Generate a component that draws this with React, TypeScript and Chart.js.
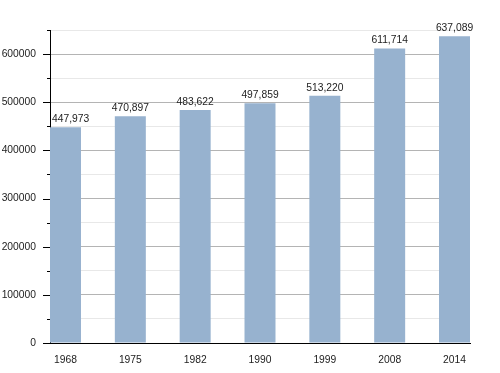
import React, { useEffect, useRef } from "react";
import { Chart, registerables } from "chart.js";

Chart.register(...registerables);

const years = ["1968", "1975", "1982", "1990", "1999", "2008", "2014"];
const population = [447973, 470897, 483622, 497859, 513220, 611714, 637089];
const valueLabels = ["447,973", "470,897", "483,622", "497,859", "513,220", "611,714", "637,089"];
const yMax = 650000;
const yMajorStep = 100000;
const yMinorStep = 50000;

const FONT = "'Liberation Sans', Arial, Helvetica, sans-serif";

const valueLabelPlugin = {
  id: "valueLabels",
  afterDatasetsDraw(chart: any) {
    const ctx = chart.ctx;
    const meta = chart.getDatasetMeta(0);
    const left = chart.chartArea.left;
    ctx.save();
    ctx.font = `10.3px ${FONT}`;
    ctx.fillStyle = "#222";
    ctx.textAlign = "center";
    ctx.textBaseline = "bottom";
    meta.data.forEach((bar: any, i: number) => {
      const w = ctx.measureText(valueLabels[i]).width;
      const x = Math.max(bar.x, left + 2 + w / 2);
      ctx.fillText(valueLabels[i], x, bar.y - 3);
    });
    ctx.restore();
  },
};

const yTickPlugin = {
  id: "yTicks",
  afterDraw(chart: any) {
    const ctx = chart.ctx;
    const ys = chart.scales.y;
    const left = chart.chartArea.left;
    ctx.save();
    ctx.strokeStyle = "#000";
    ctx.lineWidth = 1;
    for (let v = 0; v <= yMax; v += yMinorStep) {
      const py = Math.round(ys.getPixelForValue(v)) + 0.5;
      const len = v % yMajorStep === 0 ? 7 : 3;
      ctx.beginPath();
      ctx.moveTo(left - len, py);
      ctx.lineTo(left, py);
      ctx.stroke();
    }
    ctx.restore();
  },
};

export default function App() {
  const ref = useRef<HTMLCanvasElement>(null);
  useEffect(() => {
    document.body.style.margin = "0";
    const chart = new Chart(ref.current!, {
      type: "bar",
      data: {
        datasets: [
          {
            data: population.map((v, i) => ({ x: i, y: v })),
            backgroundColor: "#97b2cf",
            borderWidth: 0,
            categoryPercentage: 1,
            barPercentage: 0.478,
          },
        ],
      },
      options: {
        animation: false,
        responsive: false,
        layout: { padding: { left: 0, right: 30, top: 30, bottom: 0 } },
        plugins: { legend: { display: false }, tooltip: { enabled: false } },
        scales: {
          x: {
            type: "linear",
            offset: false,
            min: -0.239,
            max: 6.239,
            grid: { display: false },
            border: { display: true, color: "#000", width: 1 },
            ticks: {
              stepSize: 1,
              includeBounds: false,
              autoSkip: false,
              maxRotation: 0,
              padding: 3,
              color: "#222",
              font: { family: FONT, size: 10.3 },
              callback: (v: any) => (Number.isInteger(v) ? years[v] : ""),
            },
            afterFit: (s: any) => {
              s.height = 30;
            },
          },
          y: {
            min: 0,
            max: yMax,
            grid: {
              drawTicks: false,
              color: (c: any) =>
                c.tick && c.tick.value % yMajorStep === 0 ? "#b4b4b4" : "#e8e8e8",
            },
            border: { display: true, color: "#000", width: 1 },
            ticks: {
              stepSize: yMinorStep,
              autoSkip: false,
              padding: 14,
              color: "#222",
              font: { family: FONT, size: 10.3 },
              callback: (v: any) => (v % yMajorStep === 0 ? String(v) : ""),
            },
            afterFit: (s: any) => {
              s.width = 50;
            },
          },
        },
      },
      plugins: [valueLabelPlugin, yTickPlugin],
    } as any);
    return () => chart.destroy();
  }, []);
  return (
    <div style={{ width: 500, height: 373, background: "#fff" }}>
      <canvas ref={ref} width={500} height={373} />
    </div>
  );
}
